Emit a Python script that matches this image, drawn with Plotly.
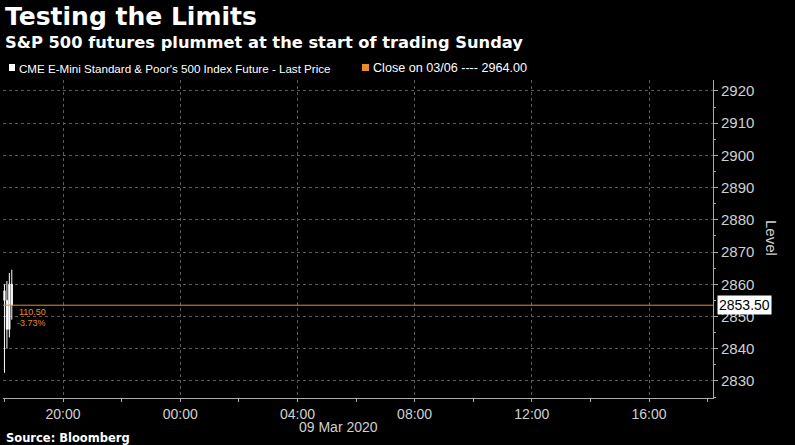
import plotly.graph_objects as go

# ---- data ----
bar_times = ["2020-03-08 18:00", "2020-03-08 18:05", "2020-03-08 18:10", "2020-03-08 18:15"]
bar_open = [2858.0, 2855.0, 2846.0, 2860.0]
bar_high = [2860.0, 2861.0, 2863.5, 2864.5]
bar_low = [2832.5, 2840.0, 2843.5, 2849.0]
bar_close = [2855.0, 2846.0, 2860.0, 2853.5]

last_price = 2853.50
prior_close = 2964.00
change_abs = "110.50"
change_pct = "-3.73%"

x_range = ["2020-03-08 17:57", "2020-03-09 18:11"]
y_range = [2824.7, 2923.4]
y_ticks = [2830, 2840, 2850, 2860, 2870, 2880, 2890, 2900, 2910, 2920]

title = "Testing the Limits"
subtitle = "S&P 500 futures plummet at the start of trading Sunday"
series_name = "CME E-Mini Standard & Poor's 500 Index Future - Last Price"
close_name = "Close on 03/06 ---- 2964.00"
source = "Source: Bloomberg"

ORANGE = "#e8892c"
GRID = "#5a5a5a"
TXT = "#d0d0d0"

fig = go.Figure()
fig.add_trace(go.Candlestick(
    x=bar_times, open=bar_open, high=bar_high, low=bar_low, close=bar_close,
    increasing=dict(line=dict(color="white", width=1), fillcolor="white"),
    decreasing=dict(line=dict(color="white", width=1), fillcolor="white"),
    showlegend=False, hoverinfo="skip",
))

# last price line (orange)
fig.add_shape(type="line", xref="paper", x0=0, x1=1, yref="y", y0=last_price, y1=last_price,
              line=dict(color=ORANGE, width=1), layer="above")

L, R, T, B = 3, 82, 80, 47
W, H = 795, 445
pw, ph = W - L - R, H - T - B


def px(x):
    return (x - L) / pw


def py(y):
    return (H - B - y) / ph


ann = []
ann.append(dict(text="<b>" + title + "</b>", x=px(3), y=py(17), xanchor="left", yanchor="middle",
                font=dict(family="DejaVu Sans", size=25, color="white")))
ann.append(dict(text="<b>" + subtitle + "</b>", x=px(3), y=py(42), xanchor="left", yanchor="middle",
                font=dict(family="DejaVu Sans", size=16.3, color="white")))
ann.append(dict(text=series_name, x=px(17), y=py(68), xanchor="left", yanchor="middle",
                font=dict(family="Liberation Sans", size=11.6, color="white")))
ann.append(dict(text=close_name, x=px(371), y=py(68), xanchor="left", yanchor="middle",
                font=dict(family="Liberation Sans", size=12.6, color="white")))
ann.append(dict(text="<b>" + source + "</b>", x=px(4), y=py(438), xanchor="left", yanchor="middle",
                font=dict(family="DejaVu Sans", size=11.5, color="white")))
ann.append(dict(text="09 Mar 2020", x=px(338), y=py(427), xanchor="center", yanchor="middle",
                font=dict(family="Liberation Sans", size=14, color=TXT)))
ann.append(dict(text="Level", x=px(772), y=py(238), xanchor="center", yanchor="middle", textangle=90,
                font=dict(family="Liberation Sans", size=15, color=TXT)))
ann.append(dict(text=change_abs, x=px(17), y=py(312), xanchor="left", yanchor="middle",
                font=dict(family="Liberation Sans", size=9, color=ORANGE)))
ann.append(dict(text=change_pct, x=px(15), y=py(323), xanchor="left", yanchor="middle",
                font=dict(family="Liberation Sans", size=9, color=ORANGE)))
ann.append(dict(text="%.2f" % last_price, xref="paper", x=1, xshift=4, yref="y", y=last_price,
                xanchor="left", yanchor="middle", bgcolor="white", borderpad=1,
                font=dict(family="Liberation Sans", size=14, color="black")))
for a in ann:
    a.setdefault("xref", "paper")
    a.setdefault("yref", "paper")
    a["showarrow"] = False
fig.update_layout(annotations=ann)

# legend squares
fig.add_shape(type="rect", xref="paper", yref="paper", x0=px(9), x1=px(15), y0=py(71), y1=py(64),
              fillcolor="white", line=dict(width=0))
fig.add_shape(type="rect", xref="paper", yref="paper", x0=px(362), x1=px(369), y0=py(71), y1=py(64),
              fillcolor=ORANGE, line=dict(width=0))

fig.update_layout(
    width=W, height=H,
    margin=dict(l=L, r=R, t=T, b=B),
    paper_bgcolor="black", plot_bgcolor="black",
    xaxis=dict(
        type="date", range=x_range, rangeslider=dict(visible=False),
        tickformat="%H:%M", dtick=4 * 3600 * 1000, tick0="2020-03-08 20:00",
        ticks="outside", ticklen=3, tickcolor="#aaaaaa",
        showgrid=True, gridcolor=GRID, griddash="dot", gridwidth=1,
        showline=True, linecolor="#aaaaaa", linewidth=1,
        tickfont=dict(family="Liberation Sans", size=14, color=TXT),
        minor=dict(dtick=2 * 3600 * 1000, ticklen=3, tickcolor="#aaaaaa", showgrid=False, ticks="outside"),
        zeroline=False, fixedrange=True,
    ),
    yaxis=dict(
        side="right", range=y_range, tickvals=y_ticks,
        ticks="outside", ticklen=4, tickcolor="#aaaaaa",
        showgrid=True, gridcolor=GRID, griddash="dot", gridwidth=1,
        showline=True, linecolor="#aaaaaa", linewidth=1,
        tickfont=dict(family="Liberation Sans", size=15, color=TXT),
        minor=dict(tickvals=[y + 5 for y in y_ticks] + [2825], ticklen=2, tickcolor="#aaaaaa",
                   ticks="outside", showgrid=False),
        zeroline=False, fixedrange=True,
    ),
    showlegend=False,
)

fig.write_html("out.html")
